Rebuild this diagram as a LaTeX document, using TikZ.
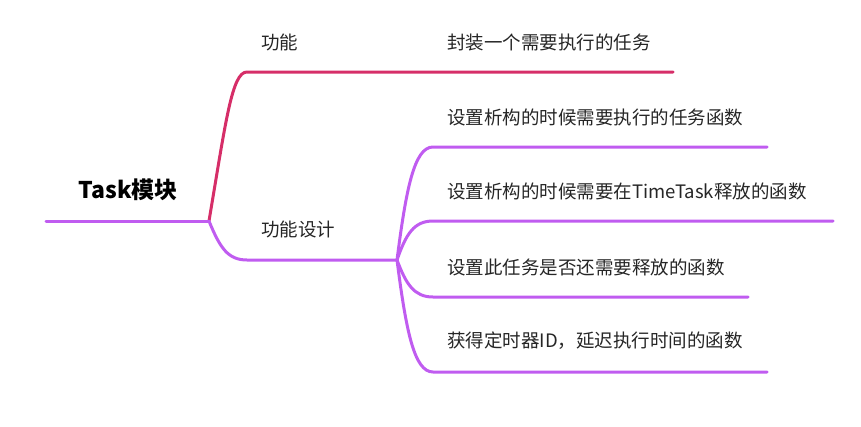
\documentclass[tikz,border=0pt]{standalone}
\usepackage{fontspec}
\setmainfont{Noto Sans CJK SC}
\definecolor{redb}{RGB}{214,46,104}
\definecolor{purb}{RGB}{192,92,240}
\begin{document}
\begin{tikzpicture}[x=1pt,y=-1pt,
  br/.style={line width=3pt,line cap=round},
  lbl/.style={anchor=west,inner sep=0pt,font=\fontsize{18.5}{20}\selectfont,text=black!85}]
\useasboundingbox (0,0) rectangle (861,426);
% coordinates
\coordinate (rs) at (46,221);
\coordinate (rj) at (209,221);
\coordinate (a1) at (247,72);
\coordinate (a2) at (673,72);
\coordinate (b1) at (247,260);
\coordinate (bj) at (397,260);
\coordinate (c1) at (433,147); \coordinate (c1e) at (767,147);
\coordinate (c2) at (433,221); \coordinate (c2e) at (833,221);
\coordinate (c3) at (433,297); \coordinate (c3e) at (748,297);
\coordinate (c4) at (433,372); \coordinate (c4e) at (767,372);
% branches
\draw[br,redb] (rj) .. controls (226,120) and (232,72) .. (a1) -- (a2);
\draw[br,purb] (rs) -- (rj);
\draw[br,purb] (rj) .. controls (220,248) and (228,260) .. (b1) -- (bj);
\draw[br,purb] (bj) .. controls (406,190) and (414,147) .. (c1) -- (c1e);
\draw[br,purb] (bj) .. controls (406,234) and (414,221) .. (c2) -- (c2e);
\draw[br,purb] (bj) .. controls (406,284) and (414,297) .. (c3) -- (c3e);
\draw[br,purb] (bj) .. controls (406,330) and (414,372) .. (c4) -- (c4e);
% labels
\node[inner sep=0pt,font=\fontsize{23}{25}\selectfont\bfseries,text=black] (root) at (128,190) {Task模块};
\node[lbl] (t1) at (261,42) {功能};
\node[lbl] (t2) at (261,229) {功能设计};
\node[lbl] (d0) at (447,42) {封装一个需要执行的任务};
\node[lbl] (d1) at (447,117) {设置析构的时候需要执行的任务函数};
\node[lbl] (d2) at (447,191) {设置析构的时候需要在TimeTask释放的函数};
\node[lbl] (d3) at (447,267) {设置此任务是否还需要释放的函数};
\node[lbl] (d4) at (447,341) {获得定时器ID，延迟执行时间的函数};
\end{tikzpicture}
\end{document}
